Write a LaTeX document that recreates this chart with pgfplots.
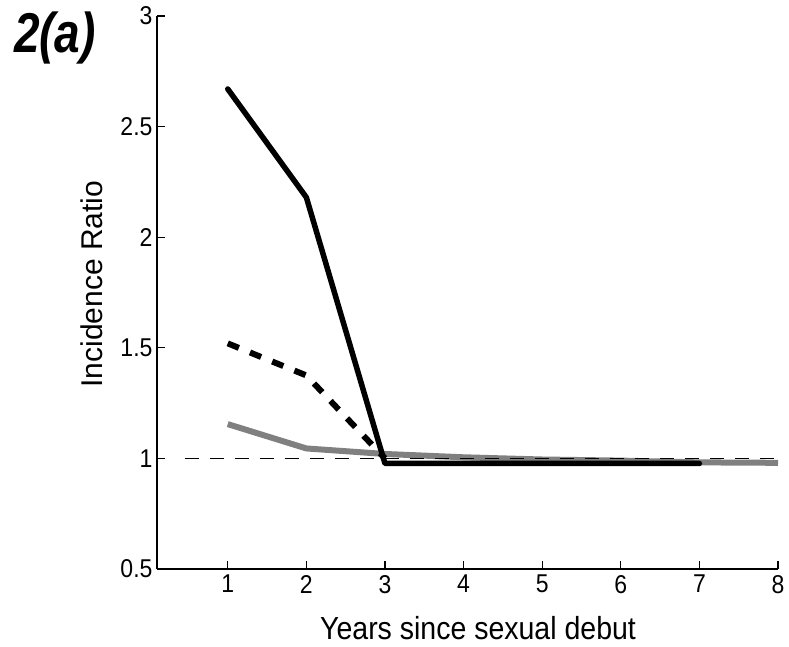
\documentclass[border=0pt]{standalone}
\usepackage{pgfplots}
\pgfplotsset{compat=1.18}
\usepackage{fontspec}
\setmainfont{Liberation Sans}
\begin{document}
\begin{tikzpicture}[x=1pt,y=1pt]
\path[use as bounding box] (0,0) rectangle (789,647);
\begin{axis}[
  at={(157pt,78pt)}, anchor=south west,
  scale only axis, width=621pt, height=553pt,
  xmin=0.1, xmax=8, ymin=0.5, ymax=3,
  axis lines*=left,
  axis line style={line width=1.3pt},
  xtick={1,2,...,8}, ytick={0.5,1,1.5,2,2.5,3},
  yticklabels={0.5,1,1.5,2,2.5,3},
  tick align=inside, major tick length=8pt,
  tick style={line width=1.3pt, black},
  /pgf/number format/assume math mode=true,
  ticklabel style={font=\fontsize{23}{26}\selectfont, yscale=1.12},
  xticklabel style={yshift=-2pt},
  yticklabel style={xshift=-1pt},
  xlabel={Years since sexual debut},
  ylabel={Incidence Ratio},
  xlabel style={font=\fontsize{28.5}{32}\selectfont, yscale=1.12, at={(axis description cs:0.517,-0.107)}, anchor=center},
  ylabel style={font=\fontsize{30}{34}\selectfont, at={(axis description cs:-0.105,0.515)}, anchor=center},
  clip=false,
]
\addplot[color={rgb,255:red,128;green,128;blue,128}, line width=6pt] coordinates {(1,1.155) (2,1.045) (3,1.02) (4,1.005) (5,0.995) (6,0.99) (7,0.982) (8,0.98)};
\addplot[black, line width=6pt, dash pattern=on 12pt off 12pt] coordinates {(1,1.52) (2,1.375) (3,1.0)};
\addplot[black, line width=5.5pt, line join=round, line cap=round] coordinates {(1,2.67) (2,2.18) (3,0.977) (4,0.977) (5,0.977) (6,0.977) (7,0.977)};
\addplot[black, line width=1.2pt, dash pattern=on 14pt off 11pt] coordinates {(0.45,1) (8,1)};
\end{axis}
\node[font=\fontsize{46}{50}\selectfont\bfseries\itshape, yscale=1.22] at (55,609) {2(a)};
\end{tikzpicture}
\end{document}
